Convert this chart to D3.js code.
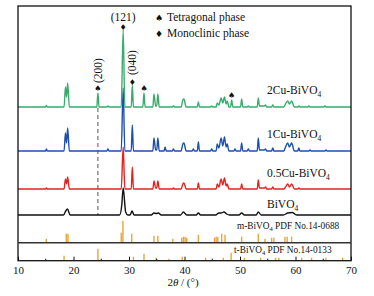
<!DOCTYPE html>
<html lang="en">
<head>
<meta charset="utf-8">
<title>XRD patterns</title>
<script src="https://d3js.org/d3.v7.min.js"></script>
<style>
  body { margin: 0; background: #fff; }
  svg text { font-family: "Liberation Serif", "Times New Roman", serif; fill: #111; }
  .sym { font-family: "DejaVu Sans", sans-serif; }
</style>
</head>
<body>
<script>
// 2theta / intensity pairs (arbitrary units, above each trace's baseline)
const bivo4 = [[10,0],[18.2,0],[18.6,4],[18.9,6],[19.4,0],[28.3,0],[28.7,10],[28.95,27],[29.4,3],[29.8,0],[30.2,0],[30.55,4],[30.9,0],[34.0,0],[34.5,2],[34.9,1.5],[35.3,2],[35.8,0],[39.3,0],[39.8,3],[40.4,0],[42.1,0],[42.5,2],[42.9,0],[45.6,0],[46.2,2],[46.6,2],[47.1,3],[47.6,1],[48.1,0],[49.8,0],[50.3,2],[50.8,0],[52.9,0],[53.3,3],[53.8,0],[57.8,0],[58.6,2],[59.4,2.5],[60.2,0],[70,0]];
const cu05 = [[10,0],[15.0,0],[15.1,1],[15.3,0],[18.3,0],[18.55,10],[18.75,5],[18.95,12],[19.25,0],[28.6,0],[28.95,42],[29.25,0],[30.4,0],[30.6,22],[30.8,0],[34.3,0],[34.5,8],[34.8,1],[35.0,1],[35.2,8],[35.45,0],[37.8,0],[38.0,1],[38.2,0],[39.4,0],[39.7,5],[39.9,6],[40.3,0],[42.3,0],[42.5,6],[42.7,0],[45.7,0],[45.9,5],[46.2,2],[46.6,10],[46.9,4],[47.2,11],[47.5,3],[47.7,5],[48.0,0],[50.1,0],[50.3,5],[50.5,0],[53.1,0],[53.3,9],[53.5,1],[54.4,1],[54.6,2],[54.8,0],[55.7,0],[55.9,2],[56.1,0],[57.9,0],[58.2,2],[58.6,5],[58.9,2],[59.3,5],[59.8,0],[60.4,0],[60.6,1],[60.8,0],[70,0]];
const cu1 = [[10,0],[15.0,0],[15.1,2],[15.3,0],[18.3,0],[18.55,18],[18.75,8],[18.95,23],[19.25,0],[26.0,0],[26.2,2],[26.4,0],[28.6,0],[28.95,63],[29.25,0],[30.4,0],[30.6,26],[30.8,0],[34.3,0],[34.5,13],[34.8,1],[35.0,1],[35.2,13],[35.45,0],[36.3,0],[36.5,4],[36.7,0],[37.8,0],[38.0,2],[38.2,0],[39.4,0],[39.7,7],[39.9,8],[40.3,0],[41.4,0],[41.6,2],[41.8,0],[42.3,0],[42.5,9],[42.7,0],[44.7,0],[44.9,2],[45.1,0],[45.7,0],[45.9,7],[46.2,3],[46.6,13],[46.9,5],[47.2,14],[47.5,4],[47.7,7],[48.0,0],[48.9,0],[49.1,2],[49.3,0],[50.1,0],[50.3,8],[50.5,0],[51.3,0],[51.5,2],[51.7,0],[53.1,0],[53.3,13],[53.5,1],[54.4,1],[54.6,2],[54.8,0],[55.7,0],[55.9,3],[56.1,0],[57.9,0],[58.2,4],[58.6,8],[58.9,4],[59.3,8],[59.8,0],[60.4,0],[60.6,3],[60.8,0],[62.4,0],[62.6,1],[62.8,0],[65.3,0],[65.5,1],[65.7,0],[70,0]];
const cu2 = [[10,0],[15,0],[15.1,1.5],[15.3,0],[18.3,0],[18.55,20],[18.75,10],[18.95,24],[19.25,0],[24.2,0],[24.4,14],[24.6,0],[26,0],[26.2,1],[26.4,0],[28.6,0],[28.95,77],[29.25,0],[30.4,0],[30.6,22],[30.8,0],[32.5,0],[32.7,14],[32.9,0],[34.3,0],[34.5,13],[34.8,1],[35.0,1],[35.2,13],[35.45,0],[37.8,0],[38.0,1],[38.2,0],[39.4,0],[39.7,7],[39.9,8],[40.3,0],[42.3,0],[42.5,5],[42.7,0],[44.7,0],[44.9,1],[45.1,0],[45.7,0],[45.9,4],[46.2,2],[46.6,9],[46.9,4],[47.2,10],[47.5,3],[47.7,6],[48.0,0],[48.3,0],[48.5,7],[48.7,0],[50.1,0],[50.3,8],[50.5,0],[51.3,0],[51.5,1],[51.7,0],[53.1,0],[53.3,9],[53.5,1],[54.4,1],[54.6,2],[54.8,0],[55.7,0],[55.9,2],[56.1,0],[57.9,0],[58.2,3],[58.6,6],[58.9,3],[59.3,6],[59.8,0],[60.4,0],[60.6,1],[60.8,0],[62.2,0],[62.4,1],[62.6,0],[65.1,0],[65.3,1],[65.5,0],[70,0]];

// reference cards (position, relative intensity)
const mCard = [[15.1,4],[18.7,9],[19.0,9],[28.6,10],[28.9,22],[30.5,9],[34.5,7],[35.2,7],[37.9,4],[39.5,5],[39.8,6],[40.1,6],[40.4,5],[42.5,8],[45.4,5],[45.7,6],[46.0,6],[46.7,9],[47.3,8],[50.3,6],[53.3,9],[54.5,4],[55.7,5],[56.1,5],[58.1,6],[58.5,6],[59.3,6]];
const tCard = [[18.3,5],[24.4,12],[30.8,4],[32.7,7],[34.9,3],[37.2,2],[39.6,4],[43.8,3],[47.0,3],[48.4,8],[50.8,3],[53.7,3],[56.4,3],[57.0,3],[61.1,3],[62.9,3],[65.5,3],[68.5,3]];

const seriesNames = ["BiVO", "0.5Cu-BiVO", "1Cu-BiVO", "2Cu-BiVO"];
const seriesData = [bivo4, cu05, cu1, cu2];
const seriesColors = ["#111111", "#e8201e", "#1d4fb0", "#3aab6b"];
const offsets = [0, 26, 64, 108];

// phase markers on 2Cu-BiVO4: [2theta, type, hkl label]
const markers = [[24.4, "t", "(200)"], [28.95, "m", "(121)"], [30.6, "m", "(040)"], [32.7, "t", ""], [48.5, "t", ""]];
const xTicks = [10, 20, 30, 40, 50, 60, 70];
const xMinor = [15, 25, 35, 45, 55, 65];

const W = 374, H = 296;
const pLeft = 18, pRight = 351, pTop = 6, pBottom = 260.7, divider = 242.7;

const svg = d3.select("body").append("svg").attr("width", W).attr("height", H);

const x = d3.scaleLinear().domain([10, 70]).range([pLeft, pRight]);
const y = d3.scaleLinear().domain([0, 209]).range([215, pTop]);
const yM = d3.scaleLinear().domain([0, 30]).range([divider, divider - 30]);
const yT = d3.scaleLinear().domain([0, 18]).range([pBottom, pBottom - 18]);

// dashed guide at (200)
svg.append("line")
   .attr("x1", x(24.4)).attr("x2", x(24.4))
   .attr("y1", y(offsets[3]) + 1).attr("y2", y(0))
   .attr("stroke", "#555").attr("stroke-width", 1)
   .attr("stroke-dasharray", "4,3");

// traces
const line = d3.line()
   .curve(d3.curveMonotoneX)
   .x(d => x(d[0]))
   .y(d => d[1]);

seriesData.forEach((s, i) => {
  svg.append("path")
     .datum(s.map(d => [d[0], y(d[1] + offsets[i])]))
     .attr("d", line)
     .attr("fill", "none")
     .attr("stroke", seriesColors[i])
     .attr("stroke-width", 1.4)
     .attr("stroke-linejoin", "round");
});

// series labels
const labelY = [207.7, 177.3, 137.7, 94];
seriesNames.forEach((n, i) => {
  const t = svg.append("text").attr("x", 267).attr("y", labelY[i]).attr("font-size", 11.5);
  t.append("tspan").text(n);
  t.append("tspan").attr("dy", 3).attr("font-size", 7.5).text("4");
});

// PDF cards
svg.append("g").selectAll("line").data(mCard).join("line")
   .attr("x1", d => x(d[0])).attr("x2", d => x(d[0]))
   .attr("y1", yM(0)).attr("y2", d => yM(d[1]))
   .attr("stroke", "#e9a53d").attr("stroke-width", 1.4);
svg.append("g").selectAll("line").data(tCard).join("line")
   .attr("x1", d => x(d[0])).attr("x2", d => x(d[0]))
   .attr("y1", yT(0)).attr("y2", d => yT(d[1]))
   .attr("stroke", "#e9a53d").attr("stroke-width", 1.4);

const mText = svg.append("text").attr("x", 237).attr("y", 228.5).attr("font-size", 9.3);
mText.append("tspan").text("m-BiVO");
mText.append("tspan").attr("dy", 2.5).attr("font-size", 6.5).text("4");
mText.append("tspan").attr("dy", -2.5).text(" PDF No.14-0688");
const tText = svg.append("text").attr("x", 234).attr("y", 252.5).attr("font-size", 9.3);
tText.append("tspan").text("t-BiVO");
tText.append("tspan").attr("dy", 2.5).attr("font-size", 6.5).text("4");
tText.append("tspan").attr("dy", -2.5).text(" PDF No.14-0133");

// frame and divider
svg.append("rect")
   .attr("x", pLeft).attr("y", pTop)
   .attr("width", pRight - pLeft).attr("height", pBottom - pTop)
   .attr("fill", "none").attr("stroke", "#111").attr("stroke-width", 1.3);
svg.append("line")
   .attr("x1", pLeft).attr("x2", pRight).attr("y1", divider).attr("y2", divider)
   .attr("stroke", "#333").attr("stroke-width", 1.6);

// bottom axis, ticks pointing in
const axis = d3.axisBottom(x).tickValues(xTicks).tickSize(-4).tickPadding(6).tickFormat(d3.format("d"));
const gx = svg.append("g").attr("transform", "translate(0," + pBottom + ")").call(axis);
gx.select(".domain").remove();
gx.selectAll("text").attr("font-size", 11).attr("fill", "#111")
  .style("font-family", "'Liberation Serif', serif");
gx.selectAll(".tick line").attr("stroke", "#111");
svg.append("g").selectAll("line").data(xMinor).join("line")
   .attr("x1", d => x(d)).attr("x2", d => x(d))
   .attr("y1", pBottom).attr("y2", pBottom - 2)
   .attr("stroke", "#111");

const xl = svg.append("text").attr("x", 183).attr("y", 286).attr("text-anchor", "middle").attr("font-size", 11);
xl.append("tspan").text("2");
xl.append("tspan").attr("font-style", "italic").text("θ");
xl.append("tspan").text(" / (°)");

// phase markers on top trace
function peakTop(pos) {
  let best = 0;
  cu2.forEach(d => { if (Math.abs(d[0] - pos) < 0.15) best = Math.max(best, d[1]); });
  return y(best + offsets[3]);
}
markers.forEach(m => {
  const px = x(m[0]), py = peakTop(m[0]);
  svg.append("text").attr("class", "sym")
     .attr("x", px).attr("y", m[1] === "m" ? py : py - 2)
     .attr("text-anchor", "middle").attr("font-size", 8)
     .text(m[1] === "t" ? "♠" : "♦");
  if (m[2] === "(121)") {
    svg.append("text").attr("x", px).attr("y", py - 9)
       .attr("text-anchor", "middle").attr("font-size", 11.5).text(m[2]);
  } else if (m[2]) {
    svg.append("text")
       .attr("transform", "translate(" + (px + 4) + "," + (py - 10) + ") rotate(-90)")
       .attr("font-size", 11.5).text(m[2]);
  }
});

// legend
const legend = [["♠", "Tetragonal phase"], ["♦", "Monoclinic phase"]];
legend.forEach((l, i) => {
  svg.append("text").attr("class", "sym").attr("x", 159).attr("y", 20.5 + i * 16)
     .attr("text-anchor", "middle").attr("font-size", 9).text(l[0]);
  svg.append("text").attr("x", 167).attr("y", 21 + i * 16).attr("font-size", 11.5).text(l[1]);
});
</script>
</body>
</html>
